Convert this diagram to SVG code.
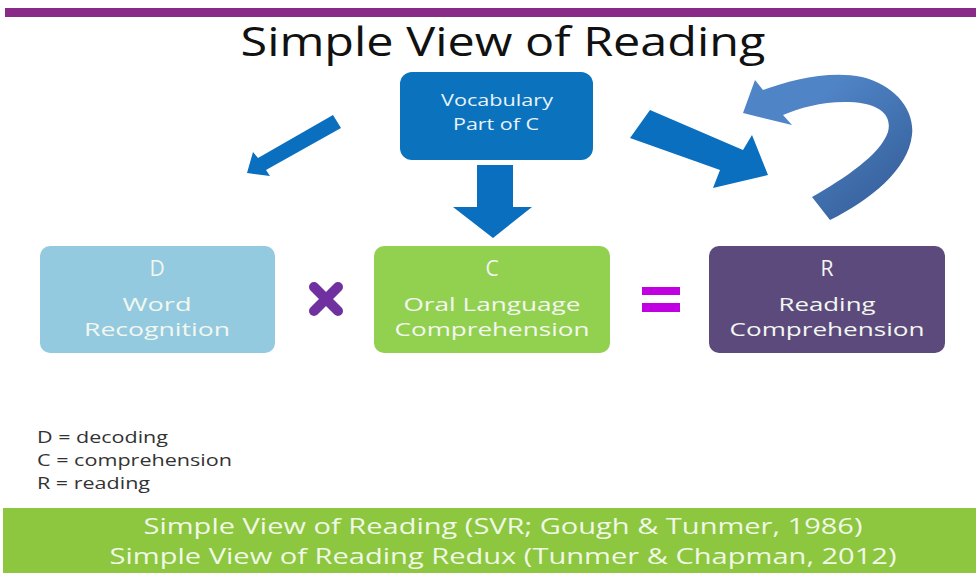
<svg xmlns="http://www.w3.org/2000/svg" width="976" height="573" viewBox="0 0 976 573">
<defs>
<style>
text{font-family:"Open Sans","Liberation Sans",sans-serif;}
.title{font-size:40px;fill:#111;text-anchor:middle;}
.bx{font-size:19px;fill:#f2f7f0;text-anchor:middle;}
.ltr{font-size:21px;}
.vb{font-size:17px;fill:#e8f2fb;text-anchor:middle;}
.leg{font-size:17px;fill:#333;}
.foot{font-size:22px;fill:#f0f8e6;text-anchor:middle;}
.arr{fill:#0b6fc0;}
</style>
<linearGradient id="cg" x1="0" y1="0" x2="1" y2="1">
<stop offset="0.3" stop-color="#4f84c6"/>
<stop offset="0.8" stop-color="#3a66a2"/>
</linearGradient>
</defs>
<rect width="976" height="573" fill="#ffffff"/>
<rect x="5" y="8" width="971" height="9" fill="#8a2a88"/>
<text class="title" x="503" y="56" textLength="525" lengthAdjust="spacingAndGlyphs">Simple View of Reading</text>

<g id="vocab">
<rect x="400" y="72" width="193" height="88" rx="12" fill="#0b72be"/>
<text class="vb" x="497" y="106" textLength="112" lengthAdjust="spacingAndGlyphs">Vocabulary</text>
<text class="vb" x="496" y="130" textLength="86" lengthAdjust="spacingAndGlyphs">Part of C</text>
</g>

<g id="connectors">
<polygon class="arr" points="477,165 513,165 513,207 532,207 493,238 453,207 477,207"/>
<polygon class="arr" points="333,115 341,128 266,170 270,176 247,173 253,152 258,158"/>
<polygon class="arr" points="650,110 630,138 720,170 713,188 768,175 752,135 743,150"/>
<path d="M763,90 C790,80 830,70 862,77 C895,85 915,110 912,135 C908,170 870,200 830,220 L812,197 C845,178 880,155 888,132 C893,112 875,102 845,102 C820,102 800,108 783,115 L792,125 L743,113 L755,80 Z" fill="url(#cg)"/>
</g>

<g id="D">
<rect x="40" y="246" width="235" height="107" rx="10" fill="#93cadf"/>
<text class="bx ltr" x="157" y="276">D</text>
<text class="bx" x="157" y="311" textLength="69" lengthAdjust="spacingAndGlyphs">Word</text>
<text class="bx" x="157" y="336" textLength="146" lengthAdjust="spacingAndGlyphs">Recognition</text>
</g>

<g id="times">
<path d="M314,287 L338,311 M338,287 L314,311" stroke="#7030a0" stroke-width="10" stroke-linecap="round"/>
</g>

<g id="C">
<rect x="374" y="246" width="236" height="107" rx="10" fill="#92d050"/>
<text class="bx ltr" x="492" y="276">C</text>
<text class="bx" x="492" y="311" textLength="177" lengthAdjust="spacingAndGlyphs">Oral Language</text>
<text class="bx" x="492" y="336" textLength="195" lengthAdjust="spacingAndGlyphs">Comprehension</text>
</g>

<g id="equals">
<rect x="642" y="287" width="38" height="8" fill="#c000e0"/>
<rect x="642" y="303" width="38" height="9" fill="#c000e0"/>
</g>

<g id="R">
<rect x="709" y="246" width="236" height="107" rx="10" fill="#5d4a7d"/>
<text class="bx ltr" x="827" y="276">R</text>
<text class="bx" x="827" y="311" textLength="97" lengthAdjust="spacingAndGlyphs">Reading</text>
<text class="bx" x="827" y="336" textLength="195" lengthAdjust="spacingAndGlyphs">Comprehension</text>
</g>

<g id="legend">
<text class="leg" x="37" y="443" textLength="131" lengthAdjust="spacingAndGlyphs">D = decoding</text>
<text class="leg" x="37" y="466" textLength="195" lengthAdjust="spacingAndGlyphs">C = comprehension</text>
<text class="leg" x="37" y="489" textLength="113" lengthAdjust="spacingAndGlyphs">R = reading</text>
</g>

<g id="footer">
<rect x="3" y="508" width="973" height="65" fill="#8dc63f"/>
<text class="foot" x="503" y="534" textLength="719" lengthAdjust="spacingAndGlyphs">Simple View of Reading (SVR; Gough &amp; Tunmer, 1986)</text>
<text class="foot" x="503" y="564" textLength="787" lengthAdjust="spacingAndGlyphs">Simple View of Reading Redux (Tunmer &amp; Chapman, 2012)</text>
</g>
</svg>
